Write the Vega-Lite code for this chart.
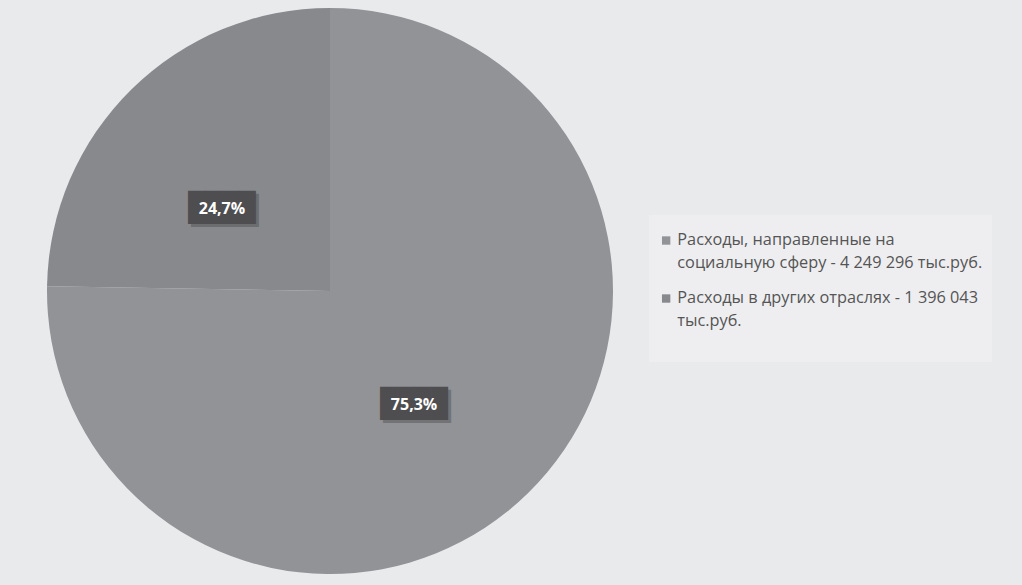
{
  "$schema": "https://vega.github.io/schema/vega-lite/v6.json",
  "width": 660,
  "height": 582,
  "autosize": {"type": "pad"},
  "padding": {"left": 0, "top": 0, "right": 30, "bottom": 3},
  "background": "#e9eaec",
  "data": {
    "values": [
      {"category": "Расходы, направленные на социальную сферу - 4 249 296 тыс.руб.", "value": 4249296, "label": "75,3%", "idx": 1},
      {"category": "Расходы в других отраслях - 1 396 043 тыс.руб.", "value": 1396043, "label": "24,7%", "idx": 2}
    ]
  },
  "encoding": {
    "theta": {"field": "value", "type": "quantitative", "stack": true},
    "order": {"field": "idx", "type": "quantitative", "sort": "ascending"},
    "color": {
      "field": "category",
      "type": "nominal",
      "sort": null,
      "scale": {
        "domain": ["Расходы, направленные на социальную сферу - 4 249 296 тыс.руб.", "Расходы в других отраслях - 1 396 043 тыс.руб."],
        "range": ["#929397", "#88898d"]
      },
      "legend": {
        "title": null,
        "orient": "none",
        "legendX": 649,
        "legendY": 215,
        "fillColor": "#eeeef0",
        "padding": 9,
        "symbolType": "M-1,1L1,1L1,3L-1,3Z",
        "symbolSize": 70,
        "symbolStrokeWidth": 0,
        "symbolFillColor": "#8e8f93",
        "labelFont": "Open Sans",
        "labelFontSize": 16.3,
        "labelColor": "#555555",
        "labelLimit": 400,
        "labelOffset": 3,
        "labelBaseline": "top",
        "rowPadding": 10,
        "labelExpr": "indexof(datum.label, 'социальную') >= 0 ? ['Расходы, направленные на', 'социальную сферу - 4 249 296 тыс.руб.'] : ['Расходы в других отраслях - 1 396 043', 'тыс.руб.', ' ']"
      }
    }
  },
  "layer": [
    {
      "mark": {"type": "arc", "outerRadius": 283, "stroke": null}
    },
    {
      "mark": {"type": "text", "font": "DejaVu Sans Mono", "fontSize": 28, "opacity": 0.35, "dx": -9, "dy": 19, "baseline": "middle"},
      "encoding": {
        "radius": {"value": 137},
        "text": {"value": "████"},
        "color": {"value": "#3a3a3a"}
      }
    },
    {
      "mark": {"type": "text", "font": "DejaVu Sans Mono", "fontSize": 28, "dx": -12, "dy": 16, "baseline": "middle"},
      "encoding": {
        "radius": {"value": 137},
        "text": {"value": "████"},
        "color": {"value": "#4e4e50"}
      }
    },
    {
      "mark": {"type": "text", "font": "Open Sans", "fontSize": 16, "fontWeight": "bold", "dx": -12, "dy": 16, "baseline": "middle"},
      "encoding": {
        "radius": {"value": 137},
        "text": {"field": "label"},
        "color": {"value": "#ffffff"}
      }
    }
  ],
  "config": {
    "view": {"stroke": null},
    "style": {"guide-label": {"lineHeight": 23}}
  }
}
